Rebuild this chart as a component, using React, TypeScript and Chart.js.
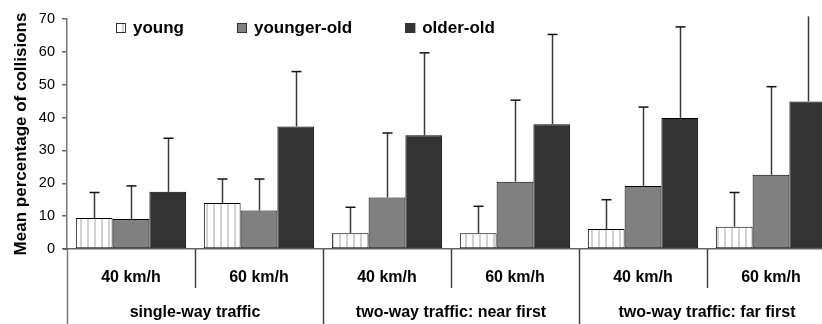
import { useEffect, useRef } from 'react';
import { Chart, registerables } from 'chart.js';

Chart.register(...registerables);

const speeds = ['40 km/h', '60 km/h', '40 km/h', '60 km/h', '40 km/h', '60 km/h'];
const conditions = ['single-way traffic', 'two-way traffic: near first', 'two-way traffic: far first'];
const seriesNames = ['young', 'younger-old', 'older-old'];

const youngMean = [9.4, 14.0, 4.8, 4.8, 6.1, 6.8];
const youngUpper = [17.2, 21.3, 12.7, 13.0, 15.0, 17.2];
const youngerOldMean = [9.1, 11.7, 15.7, 20.5, 19.2, 22.6];
const youngerOldUpper = [19.2, 21.3, 35.3, 45.3, 43.2, 49.4];
const olderOldMean = [17.4, 37.3, 34.6, 38.0, 39.9, 44.9];
const olderOldUpper = [33.7, 54.0, 59.7, 65.3, 67.6, 70.8];

const yMin = 0;
const yMax = 70;
const yStep = 10;

const FONT = "'Liberation Sans', Arial, sans-serif";

function makeStripePattern(): CanvasPattern | string {
  const c = document.createElement('canvas');
  c.width = 7;
  c.height = 4;
  const g = c.getContext('2d');
  if (!g) return '#ffffff';
  g.fillStyle = '#ffffff';
  g.fillRect(0, 0, 7, 4);
  g.fillStyle = '#d2d2d2';
  g.fillRect(3, 0, 2, 4);
  const p = g.createPattern(c, 'repeat');
  return p || '#ffffff';
}

export default function App() {
  const ref = useRef<HTMLCanvasElement | null>(null);

  useEffect(() => {
    if (!ref.current) return;
    const stripes = makeStripePattern();
    const fills: (CanvasPattern | string)[] = [stripes, '#808080', '#333333'];
    const means = [youngMean, youngerOldMean, olderOldMean];
    const uppers = [youngUpper, youngerOldUpper, olderOldUpper];

    const errorBars = {
      id: 'errorBars',
      afterDatasetsDraw(chart: any) {
        const ctx = chart.ctx;
        const ys = chart.scales.y;
        ctx.save();
        chart.data.datasets.forEach((_ds: any, di: number) => {
          const meta = chart.getDatasetMeta(di);
          const up = uppers[di];
          meta.data.forEach((bar: any, i: number) => {
            const x = Math.round(bar.x) + 0.5;
            const yTop = bar.y;
            const yErr = ys.getPixelForValue(up[i]);
            ctx.strokeStyle = '#3a3a3a';
            ctx.lineWidth = 1.5;
            ctx.beginPath();
            ctx.moveTo(x, yTop);
            ctx.lineTo(x, yErr);
            ctx.stroke();
            if (up[i] <= yMax) {
              ctx.strokeStyle = '#111';
              ctx.beginPath();
              ctx.moveTo(x - 5, yErr);
              ctx.lineTo(x + 5, yErr);
              ctx.stroke();
            }
          });
        });
        ctx.restore();
      },
    };

    const axisLabels = {
      id: 'axisLabels',
      afterDraw(chart: any) {
        const ctx = chart.ctx;
        const xs = chart.scales.x;
        const ys = chart.scales.y;
        const bottom = ys.bottom;
        const half = (xs.right - xs.left) / speeds.length / 2;
        ctx.save();
        ctx.strokeStyle = '#555';
        ctx.lineWidth = 1.5;
        ctx.beginPath();
        ctx.moveTo(xs.left - 4, bottom);
        ctx.lineTo(xs.left, bottom);
        ctx.stroke();
        for (let i = 0; i <= speeds.length; i++) {
          const bx = Math.round(xs.getPixelForValue(i) - half) + 0.5;
          const end = i % 2 === 0 ? chart.height : bottom + 39;
          ctx.strokeStyle = i === 0 ? '#777' : '#444';
          ctx.beginPath();
          ctx.moveTo(bx, bottom);
          ctx.lineTo(bx, end);
          ctx.stroke();
        }
        ctx.fillStyle = '#000';
        ctx.textAlign = 'center';
        ctx.textBaseline = 'middle';
        ctx.font = `bold 16px ${FONT}`;
        speeds.forEach((s, i) => {
          ctx.fillText(s, xs.getPixelForValue(i), bottom + 28.5);
        });
        conditions.forEach((c, g) => {
          const cx = (xs.getPixelForValue(2 * g) + xs.getPixelForValue(2 * g + 1)) / 2;
          ctx.fillText(c, cx, bottom + 63.5);
        });
        ctx.restore();
      },
    };

    const legendPlugin = {
      id: 'customLegend',
      afterDraw(chart: any) {
        const ctx = chart.ctx;
        ctx.save();
        ctx.font = `bold 17px ${FONT}`;
        ctx.textBaseline = 'middle';
        ctx.textAlign = 'left';
        let x = 116;
        const y = 28;
        seriesNames.forEach((name, i) => {
          ctx.fillStyle = fills[i];
          ctx.fillRect(x, y - 5, 10, 10);
          ctx.strokeStyle = '#333';
          ctx.lineWidth = 1;
          ctx.strokeRect(x + 0.5, y - 4.5, 9, 9);
          ctx.fillStyle = '#000';
          ctx.fillText(name, x + 17, y);
          const w = ctx.measureText(name).width;
          x += 17 + w + 53;
        });
        ctx.restore();
      },
    };

    const chart = new Chart(ref.current, {
      type: 'bar',
      data: {
        labels: speeds,
        datasets: seriesNames.map((name, i) => ({
          label: name,
          data: means[i],
          backgroundColor: fills[i] as any,
          borderColor: '#000',
          borderWidth: 1,
          borderSkipped: false,
          categoryPercentage: 0.862,
          barPercentage: 1,
        })),
      },
      options: {
        responsive: false,
        animation: false,
        devicePixelRatio: 1,
        layout: { padding: { top: 19, right: 15, left: 0, bottom: 0 } },
        plugins: {
          legend: { display: false },
          tooltip: { enabled: false },
        },
        scales: {
          x: {
            offset: true,
            ticks: { display: false },
            grid: { display: false },
            border: { display: true, color: '#666', width: 1.5 },
            afterFit: (s: any) => {
              s.height = 75;
            },
          },
          y: {
            min: yMin,
            max: yMax,
            ticks: {
              stepSize: yStep,
              color: '#000',
              padding: 7,
              font: { size: 14.5, family: FONT },
            },
            grid: {
              drawOnChartArea: false,
              drawTicks: true,
              tickLength: 5,
              color: '#666',
              lineWidth: 1.5,
            },
            border: { display: true, color: '#777', width: 1.5 },
            title: {
              display: true,
              text: 'Mean percentage of collisions',
              color: '#000',
              font: { size: 17, weight: 'bold', family: FONT },
              padding: { top: 11, bottom: 0 },
            },
            afterFit: (s: any) => {
              s.width = 67;
            },
          },
        },
      },
      plugins: [errorBars, axisLabels, legendPlugin],
    });
    return () => chart.destroy();
  }, []);

  return (
    <div style={{ position: 'fixed', left: 0, top: 0, width: 822, height: 324, overflow: 'hidden', background: '#fff' }}>
      <canvas ref={ref} width={850} height={324} style={{ display: 'block', width: 850, height: 324 }} />
    </div>
  );
}
